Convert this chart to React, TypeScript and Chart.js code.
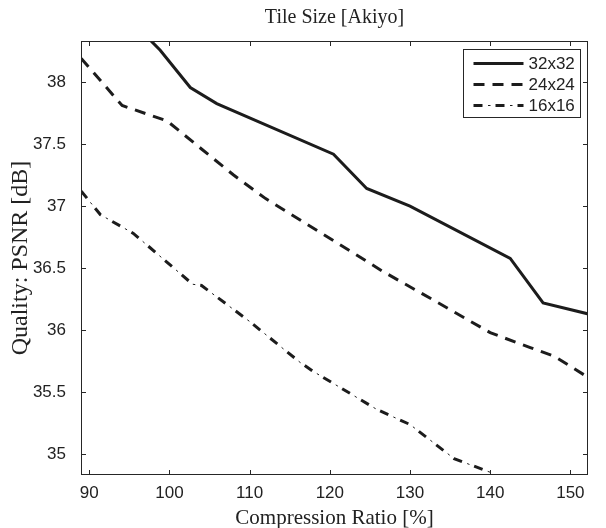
import React, { useEffect, useRef } from "react";
import { Chart, registerables } from "chart.js";

Chart.register(...registerables);

// ---- data ----
const chartTitle = "Tile Size [Akiyo]";
const xAxisLabel = "Compression Ratio [%]";
const yAxisLabel = "Quality: PSNR [dB]";
const seriesLabels = ["32x32", "24x24", "16x16"];

const x32 = [96.5, 98.85, 102.6, 105.9, 120.46, 124.6, 130.0, 142.5, 146.6, 152.3];
const y32 = [38.41, 38.255, 37.955, 37.826, 37.418, 37.142, 37.0, 36.578, 36.22, 36.13];

const x24 = [89, 94.1, 99.7, 104, 108, 112, 116, 120.5, 126.7, 133, 140, 145, 148, 152.2];
const y24 = [38.19, 37.81, 37.686, 37.46, 37.25, 37.06, 36.9, 36.72, 36.47, 36.24, 35.98, 35.86, 35.79, 35.62];

const x16 = [89, 91.4, 95.5, 102.9, 104, 110, 116.3, 118, 125.9, 130, 135.5, 140.2];
const y16 = [37.12, 36.93, 36.78, 36.37, 36.36, 36.07, 35.74, 35.665, 35.36, 35.24, 34.965, 34.85];

const xTicks = [90, 100, 110, 120, 130, 140, 150];
const yTicks = [35, 35.5, 36, 36.5, 37, 37.5, 38];
const xRange = [88.97, 152.2];
const yRange = [34.833, 38.33];

const INK = "#1c1c1c";
const AXIS = "#262626";
const SANS = "'Liberation Sans', Arial, sans-serif";
const SERIF = "'Liberation Serif', 'Times New Roman', serif";

const pts = (xs: number[], ys: number[]) => xs.map((x, i) => ({ x, y: ys[i] }));

const framePlugin = {
  id: "matlabFrame",
  afterDatasetsDraw(chart: any) {
    const { ctx, chartArea: a, scales } = chart;
    ctx.save();
    // box
    ctx.strokeStyle = AXIS;
    ctx.lineWidth = 1;
    ctx.setLineDash([]);
    ctx.strokeRect(a.left + 0.5, a.top + 0.5, a.right - a.left - 1, a.bottom - a.top - 1);
    // inward ticks
    const tl = 5;
    ctx.beginPath();
    scales.x.ticks.forEach((t: any) => {
      const px = Math.round(scales.x.getPixelForValue(t.value)) + 0.5;
      ctx.moveTo(px, a.bottom);
      ctx.lineTo(px, a.bottom - tl);
      ctx.moveTo(px, a.top);
      ctx.lineTo(px, a.top + tl);
    });
    scales.y.ticks.forEach((t: any) => {
      const py = Math.round(scales.y.getPixelForValue(t.value)) + 0.5;
      ctx.moveTo(a.left, py);
      ctx.lineTo(a.left + tl, py);
      ctx.moveTo(a.right, py);
      ctx.lineTo(a.right - tl, py);
    });
    ctx.stroke();

    // title
    ctx.fillStyle = "#222";
    ctx.font = `20px ${SERIF}`;
    ctx.textAlign = "center";
    ctx.textBaseline = "middle";
    ctx.fillText(chartTitle, (a.left + a.right) / 2, 18);

    // legend
    const lw = 117, lh = 68;
    const lx = Math.round(a.right - 8 - lw) + 0.5;
    const ly = Math.round(a.top + 8) + 0.5;
    ctx.fillStyle = "#fff";
    ctx.fillRect(lx, ly, lw, lh);
    ctx.strokeStyle = AXIS;
    ctx.lineWidth = 1;
    ctx.strokeRect(lx, ly, lw, lh);
    const datasets = chart.data.datasets;
    const rowY = (r: number) => ly + 13 + r * 21;
    datasets.forEach((ds: any) => {
      const r = ds.legendRow;
      const yy = Math.round(rowY(r)) + 0.5;
      ctx.save();
      ctx.strokeStyle = ds.borderColor;
      ctx.lineWidth = ds.borderWidth;
      ctx.setLineDash(ds.borderDash || []);
      ctx.lineDashOffset = ds.borderDashOffset || 0;
      ctx.lineCap = "butt";
      ctx.beginPath();
      ctx.moveTo(lx + 10, yy);
      ctx.lineTo(lx + 60, yy);
      ctx.stroke();
      ctx.restore();
      if (ds.label) {
        ctx.fillStyle = "#222";
        ctx.font = `17px ${SANS}`;
        ctx.textAlign = "left";
        ctx.textBaseline = "middle";
        ctx.fillText(ds.label, lx + 65, yy + 1);
      }
    });
    ctx.restore();
  },
};

export default function App() {
  const ref = useRef<HTMLCanvasElement | null>(null);

  useEffect(() => {
    if (!ref.current) return;
    const chart = new Chart(ref.current, {
      type: "line",
      data: {
        datasets: [
          {
            label: seriesLabels[0],
            legendRow: 0,
            data: pts(x32, y32),
            borderColor: INK,
            borderWidth: 3,
            pointRadius: 0,
            tension: 0,
            clip: 0,
          },
          {
            label: seriesLabels[1],
            legendRow: 1,
            data: pts(x24, y24),
            borderColor: INK,
            borderWidth: 3,
            borderDash: [11, 8],
            pointRadius: 0,
            tension: 0,
            clip: 0,
          },
          {
            label: seriesLabels[2],
            legendRow: 2,
            data: pts(x16, y16),
            borderColor: INK,
            borderWidth: 3,
            borderDash: [9, 13],
            pointRadius: 0,
            tension: 0,
            clip: 0,
          },
          {
            label: "",
            legendRow: 2,
            data: pts(x16, y16),
            borderColor: INK,
            borderWidth: 1,
            borderDash: [2.5, 19.5],
            borderDashOffset: 7.5,
            pointRadius: 0,
            tension: 0,
            clip: 0,
          },
        ] as any,
      },
      options: {
        animation: false,
        responsive: false,
        layout: { padding: { top: 41, right: 18, bottom: 0, left: 0 } },
        plugins: { legend: { display: false }, title: { display: false }, tooltip: { enabled: false } },
        scales: {
          x: {
            type: "linear",
            min: xRange[0],
            max: xRange[1],
            grid: { display: false },
            border: { display: false },
            afterFit: (s: any) => { s.height = 53; },
            afterBuildTicks: (s: any) => { s.ticks = xTicks.map((v) => ({ value: v })); },
            ticks: {
              padding: 0,
              color: "#222",
              font: { family: SANS, size: 17 },
              maxRotation: 0,
              callback: (v: any) => String(v),
            },
            title: {
              display: true,
              text: xAxisLabel,
              color: "#222",
              font: { family: SERIF, size: 21 },
              padding: { top: 0, bottom: -3 },
            },
          },
          y: {
            type: "linear",
            min: yRange[0],
            max: yRange[1],
            grid: { display: false },
            border: { display: false },
            afterFit: (s: any) => { s.width = 81; },
            afterBuildTicks: (s: any) => { s.ticks = yTicks.map((v) => ({ value: v })); },
            ticks: {
              padding: 7,
              color: "#222",
              font: { family: SANS, size: 17 },
              callback: (v: any) => String(v),
            },
            title: {
              display: true,
              text: yAxisLabel,
              color: "#222",
              font: { family: SERIF, size: 24 },
              padding: { top: 6, bottom: 0 },
            },
          },
        },
      } as any,
      plugins: [framePlugin],
    });
    return () => chart.destroy();
  }, []);

  return (
    <div style={{ position: "fixed", left: 0, top: 0, width: 606, height: 528, background: "#fff" }}>
      <canvas ref={ref} width={606} height={528} />
    </div>
  );
}
